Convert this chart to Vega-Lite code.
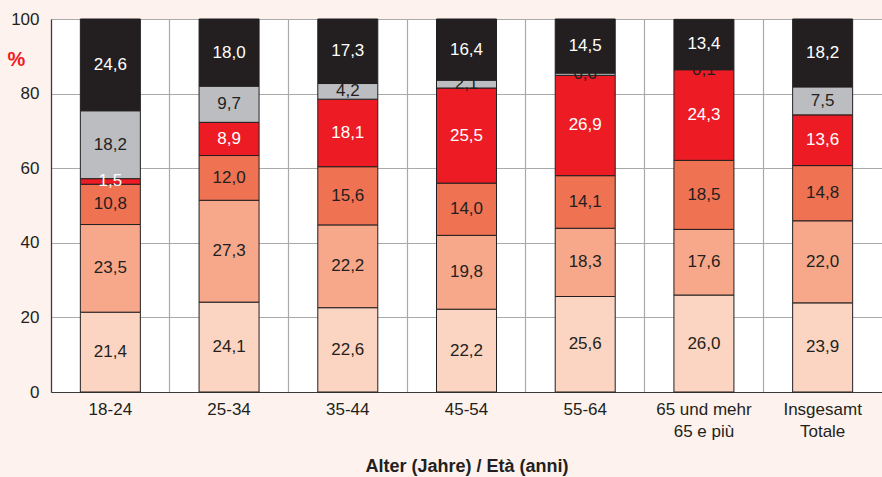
{
  "$schema": "https://vega.github.io/schema/vega-lite/v6.json",
  "width": 831,
  "height": 373,
  "autosize": {"type": "none"},
  "padding": {"left": 51, "top": 19, "right": 0, "bottom": 85},
  "background": "#fdf2ed",
  "config": {
    "font": "Liberation Sans",
    "view": {"fill": "white", "stroke": null},
    "locale": {"number": {"decimal": ",", "thousands": ".", "grouping": [3], "currency": ["", " €"]}}
  },
  "data": {
    "values": [
      {"cat": "18-24", "k": "s1", "v": 21.4}, {"cat": "18-24", "k": "s2", "v": 23.5}, {"cat": "18-24", "k": "s3", "v": 10.8}, {"cat": "18-24", "k": "s4", "v": 1.5}, {"cat": "18-24", "k": "s5", "v": 18.2}, {"cat": "18-24", "k": "s6", "v": 24.6},
      {"cat": "25-34", "k": "s1", "v": 24.1}, {"cat": "25-34", "k": "s2", "v": 27.3}, {"cat": "25-34", "k": "s3", "v": 12.0}, {"cat": "25-34", "k": "s4", "v": 8.9}, {"cat": "25-34", "k": "s5", "v": 9.7}, {"cat": "25-34", "k": "s6", "v": 18.0},
      {"cat": "35-44", "k": "s1", "v": 22.6}, {"cat": "35-44", "k": "s2", "v": 22.2}, {"cat": "35-44", "k": "s3", "v": 15.6}, {"cat": "35-44", "k": "s4", "v": 18.1}, {"cat": "35-44", "k": "s5", "v": 4.2}, {"cat": "35-44", "k": "s6", "v": 17.3},
      {"cat": "45-54", "k": "s1", "v": 22.2}, {"cat": "45-54", "k": "s2", "v": 19.8}, {"cat": "45-54", "k": "s3", "v": 14.0}, {"cat": "45-54", "k": "s4", "v": 25.5}, {"cat": "45-54", "k": "s5", "v": 2.1}, {"cat": "45-54", "k": "s6", "v": 16.4},
      {"cat": "55-64", "k": "s1", "v": 25.6}, {"cat": "55-64", "k": "s2", "v": 18.3}, {"cat": "55-64", "k": "s3", "v": 14.1}, {"cat": "55-64", "k": "s4", "v": 26.9}, {"cat": "55-64", "k": "s5", "v": 0.6}, {"cat": "55-64", "k": "s6", "v": 14.5},
      {"cat": "65 und mehr|65 e più", "k": "s1", "v": 26.0}, {"cat": "65 und mehr|65 e più", "k": "s2", "v": 17.6}, {"cat": "65 und mehr|65 e più", "k": "s3", "v": 18.5}, {"cat": "65 und mehr|65 e più", "k": "s4", "v": 24.3}, {"cat": "65 und mehr|65 e più", "k": "s5", "v": 0.1}, {"cat": "65 und mehr|65 e più", "k": "s6", "v": 13.4},
      {"cat": "Insgesamt|Totale", "k": "s1", "v": 23.9}, {"cat": "Insgesamt|Totale", "k": "s2", "v": 22.0}, {"cat": "Insgesamt|Totale", "k": "s3", "v": 14.8}, {"cat": "Insgesamt|Totale", "k": "s4", "v": 13.6}, {"cat": "Insgesamt|Totale", "k": "s5", "v": 7.5}, {"cat": "Insgesamt|Totale", "k": "s6", "v": 18.2}
    ]
  },
  "encoding": {
    "x": {
      "field": "cat", "type": "nominal", "sort": null,
      "scale": {"paddingInner": 0, "paddingOuter": 0},
      "axis": {
        "title": "Alter (Jahre) / Età (anni)",
        "titleFont": "Liberation Sans", "titleFontSize": 18, "titleFontWeight": "bold", "titleColor": "#231f20",
        "titleY": 74, "titleBaseline": "middle",
        "labelExpr": "split(datum.label, '|')",
        "labelAngle": 0, "labelFontSize": 17, "labelColor": "#231f20", "labelPadding": 9, "labelLineHeight": 22,
        "labelBaseline": "top",
        "ticks": false, "grid": true, "bandPosition": 0, "gridColor": "#aaaaaa", "gridWidth": 1.2,
        "domainColor": "#3a3a3a", "domainWidth": 1.2
      }
    }
  },
  "layer": [
    {
      "mark": {"type": "bar", "width": 60, "stroke": "#231f20", "strokeWidth": 1},
      "encoding": {
        "y": {
          "field": "v", "type": "quantitative", "stack": "zero",
          "scale": {"domain": [0, 100], "nice": false},
          "axis": {
            "values": [0, 20, 40, 60, 80, 100],
            "title": "%", "titleAngle": 0, "titleX": -35, "titleY": 40, "titleAlign": "center", "titleBaseline": "middle",
            "titleColor": "#ed1c24", "titleFontSize": 20, "titleFontWeight": "bold",
            "labelFontSize": 17, "labelColor": "#231f20", "labelPadding": 12, "ticks": false,
            "grid": true, "gridColor": "#aaaaaa", "gridWidth": 1.2,
            "domainColor": "#3a3a3a", "domainWidth": 1.2
          }
        },
        "color": {
          "field": "k", "type": "nominal", "legend": null,
          "scale": {"domain": ["s1", "s2", "s3", "s4", "s5", "s6"], "range": ["#fcd4c2", "#f8a88a", "#ef7252", "#ed1c24", "#bcbdc0", "#231f20"]}
        },
        "order": {"field": "k", "sort": "ascending"}
      }
    },
    {
      "transform": [
        {"stack": "v", "groupby": ["cat"], "sort": [{"field": "k", "order": "ascending"}], "as": ["y0", "y1"]},
        {"calculate": "(datum.y0 + datum.y1) / 2", "as": "mid"}
      ],
      "mark": {"type": "text", "fontSize": 17, "baseline": "middle", "align": "center"},
      "encoding": {
        "y": {"field": "mid", "type": "quantitative"},
        "text": {"field": "v", "type": "quantitative", "format": ".1f"},
        "color": {"condition": {"test": "datum.k === 's4' || datum.k === 's6'", "value": "white"}, "value": "#231f20"}
      }
    }
  ]
}
